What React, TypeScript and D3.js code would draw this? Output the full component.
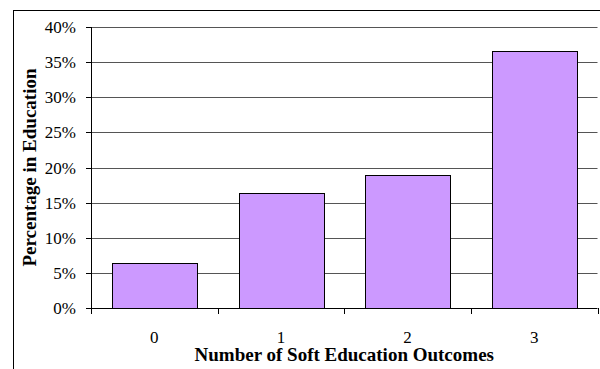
import React from "react";
import * as d3 from "d3";

const categories = ["0", "1", "2", "3"];
const percentages = [6.4, 16.3, 19.0, 36.6];
const yTicks = [0, 5, 10, 15, 20, 25, 30, 35, 40];

const W = 600;
const H = 369;
const plot = { left: 91, right: 597.5, top: 27, bottom: 308 };
const FONT = "Liberation Serif";

export default function App() {
  const x = d3
    .scaleBand<string>()
    .domain(categories)
    .range([plot.left, plot.right])
    .paddingInner(0.33)
    .paddingOuter(0.165);
  const y = d3.scaleLinear().domain([0, 40]).range([plot.bottom, plot.top]);
  const step = (plot.right - plot.left) / categories.length;
  const boundaries = d3.range(categories.length + 1).map((i) => plot.left + i * step);
  const fmt = (v: number) => `${v}%`;

  return (
    <div style={{ position: "fixed", left: 0, top: 0 }}>
      <svg width={W} height={H} style={{ display: "block", background: "#fff", fontFamily: FONT }}>
        {/* chart frame */}
        <rect x={13.5} y={10.5} width={W} height={H} fill="#fff" stroke="#000" strokeWidth={1} />

        {/* horizontal gridlines */}
        {yTicks.slice(1).map((t) => (
          <line
            key={`g${t}`}
            x1={plot.left}
            x2={plot.right}
            y1={Math.round(y(t)) + 0.5}
            y2={Math.round(y(t)) + 0.5}
            stroke="#555"
            strokeWidth={1}
          />
        ))}

        {/* bars */}
        {categories.map((c, i) => (
          <rect
            key={`b${c}`}
            x={Math.round(x(c)!) + 0.5}
            y={Math.round(y(percentages[i])) + 0.5}
            width={Math.round(x.bandwidth())}
            height={Math.round(y(0)) - Math.round(y(percentages[i]))}
            fill="#CC99FF"
            stroke="#000"
            strokeWidth={1}
          />
        ))}

        {/* y axis */}
        <line x1={plot.left + 0.5} x2={plot.left + 0.5} y1={Math.round(y(40))} y2={Math.round(y(0)) + 1} stroke="#000" />
        {yTicks.map((t) => (
          <g key={`yt${t}`}>
            <line
              x1={plot.left - 5}
              x2={plot.left}
              y1={Math.round(y(t)) + 0.5}
              y2={Math.round(y(t)) + 0.5}
              stroke="#000"
            />
            <text
              x={76}
              y={y(t) + 6}
              textAnchor="end"
              style={{ fontFamily: FONT, fontSize: "17px" }}
              fill="#000"
            >
              {fmt(t)}
            </text>
          </g>
        ))}

        {/* x axis */}
        <line x1={plot.left} x2={plot.right} y1={Math.round(y(0)) + 0.5} y2={Math.round(y(0)) + 0.5} stroke="#000" />
        {boundaries.map((bx, i) => (
          <line
            key={`xt${i}`}
            x1={Math.round(bx) + 0.5}
            x2={Math.round(bx) + 0.5}
            y1={plot.bottom}
            y2={plot.bottom + 6}
            stroke="#000"
          />
        ))}
        {categories.map((c) => (
          <text
            key={`xl${c}`}
            x={x(c)! + x.bandwidth() / 2}
            y={343}
            textAnchor="middle"
            style={{ fontFamily: FONT, fontSize: "17px" }}
            fill="#000"
          >
            {c}
          </text>
        ))}

        {/* axis titles */}
        <text
          x={(plot.left + plot.right) / 2}
          y={361}
          textAnchor="middle"
          style={{ fontFamily: FONT, fontSize: "19px", fontWeight: "bold" }}
          fill="#000"
        >
          Number of Soft Education Outcomes
        </text>
        <text
          transform={`translate(36, ${(plot.top + plot.bottom) / 2}) rotate(-90)`}
          textAnchor="middle"
          style={{ fontFamily: FONT, fontSize: "19px", fontWeight: "bold" }}
          fill="#000"
        >
          Percentage in Education
        </text>
      </svg>
    </div>
  );
}
